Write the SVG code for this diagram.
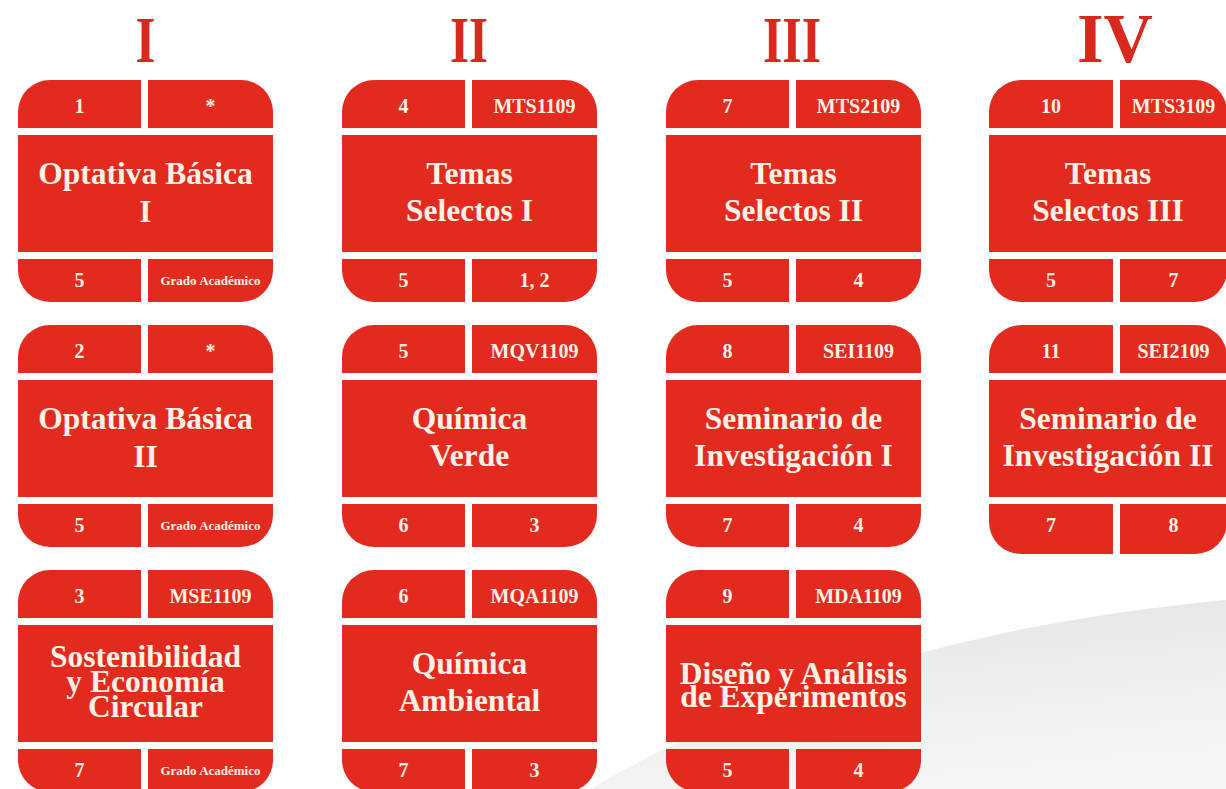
<svg xmlns="http://www.w3.org/2000/svg" xmlns:xlink="http://www.w3.org/1999/xlink" width="1226" height="789" viewBox="0 0 1226 789">
<style>
.cell{fill:#e32a1f}
.hd{font-family:"Liberation Serif","Times New Roman",serif;font-weight:bold;fill:#d9291e;text-anchor:middle}
.lb{font-family:"Liberation Serif","Times New Roman",serif;font-weight:bold;fill:#fbf1e4;text-anchor:middle;font-size:20px}
.sm{font-size:13px}
.tt{font-family:"Liberation Serif","Times New Roman",serif;font-weight:bold;fill:#fbf1e4;text-anchor:middle;font-size:31.5px}
</style>
<defs>
<linearGradient id="sw" x1="0" y1="0" x2="0.3" y2="1">
<stop offset="0" stop-color="#e3e3e3"/>
<stop offset="1" stop-color="#f5f5f5"/>
</linearGradient>
<g id="card">
<path class="cell" d="M0,48 V32 A32,32 0 0 1 32,0 H123 V48 Z"/>
<path class="cell" d="M130,0 H223 A32,32 0 0 1 255,32 V48 H130 Z"/>
<rect class="cell" x="0" y="55" width="255" height="117"/>
<path class="cell" d="M0,179 H123 V222 H32 A32,32 0 0 1 0,190 Z"/>
<path class="cell" d="M130,179 H255 V190 A32,32 0 0 1 223,222 H130 Z"/>
</g>
<g id="cardN">
<path class="cell" d="M0,48 V32 A32,32 0 0 1 32,0 H124 V48 Z"/>
<path class="cell" d="M131,0 H206 A32,32 0 0 1 238,32 V48 H131 Z"/>
<rect class="cell" x="0" y="55" width="238" height="117"/>
<path class="cell" d="M0,179 H124 V222 H32 A32,32 0 0 1 0,190 Z"/>
<path class="cell" d="M131,179 H238 V190 A32,32 0 0 1 206,222 H131 Z"/>
</g>
<g id="cardNT">
<path class="cell" d="M0,48 V32 A32,32 0 0 1 32,0 H124 V48 Z"/>
<path class="cell" d="M131,0 H206 A32,32 0 0 1 238,32 V48 H131 Z"/>
<rect class="cell" x="0" y="55" width="238" height="117"/>
<path class="cell" d="M0,179 H124 V229 H32 A32,32 0 0 1 0,197 Z"/>
<path class="cell" d="M131,179 H238 V197 A32,32 0 0 1 206,229 H131 Z"/>
</g>
</defs>
<rect width="1226" height="789" fill="#ffffff"/>
<path d="M590,789 C760,690 960,625 1226,600 V789 Z" fill="url(#sw)"/>
<g id="headers">
<text class="hd" x="145.5" y="62" font-size="66" textLength="20" lengthAdjust="spacingAndGlyphs">I</text>
<text class="hd" x="469" y="62" font-size="66" textLength="38" lengthAdjust="spacingAndGlyphs">II</text>
<text class="hd" x="792" y="62" font-size="66" textLength="58" lengthAdjust="spacingAndGlyphs">III</text>
<text class="hd" x="1115" y="62" font-size="70" textLength="76" lengthAdjust="spacingAndGlyphs">IV</text>
</g>
<g id="c1" transform="translate(18,80)"><use href="#card"/>
<text class="lb" x="61.5" y="32.5">1</text><text class="lb" x="192.5" y="32.5">*</text>
<text class="tt" x="127.5" y="104">Optativa Básica</text><text class="tt" x="127.5" y="142">I</text>
<text class="lb" x="61.5" y="206.5">5</text><text class="lb sm" x="192.5" y="205">Grado Académico</text></g>
<g id="c2" transform="translate(18,325)"><use href="#card"/>
<text class="lb" x="61.5" y="32.5">2</text><text class="lb" x="192.5" y="32.5">*</text>
<text class="tt" x="127.5" y="104">Optativa Básica</text><text class="tt" x="127.5" y="142">II</text>
<text class="lb" x="61.5" y="206.5">5</text><text class="lb sm" x="192.5" y="205">Grado Académico</text></g>
<g id="c3" transform="translate(18,570)"><use href="#card"/>
<text class="lb" x="61.5" y="32.5">3</text><text class="lb" x="192.5" y="32.5">MSE1109</text>
<text class="tt" x="127.5" y="97">Sostenibilidad</text><text class="tt" x="127.5" y="122">y Economía</text><text class="tt" x="127.5" y="147">Circular</text>
<text class="lb" x="61.5" y="206.5">7</text><text class="lb sm" x="192.5" y="205">Grado Académico</text></g>
<g id="c4" transform="translate(342,80)"><use href="#card"/>
<text class="lb" x="61.5" y="32.5">4</text><text class="lb" x="192.5" y="32.5">MTS1109</text>
<text class="tt" x="127.5" y="104">Temas</text><text class="tt" x="127.5" y="141">Selectos I</text>
<text class="lb" x="61.5" y="206.5">5</text><text class="lb" x="192.5" y="206.5">1, 2</text></g>
<g id="c5" transform="translate(342,325)"><use href="#card"/>
<text class="lb" x="61.5" y="32.5">5</text><text class="lb" x="192.5" y="32.5">MQV1109</text>
<text class="tt" x="127.5" y="104">Química</text><text class="tt" x="127.5" y="141">Verde</text>
<text class="lb" x="61.5" y="206.5">6</text><text class="lb" x="192.5" y="206.5">3</text></g>
<g id="c6" transform="translate(342,570)"><use href="#card"/>
<text class="lb" x="61.5" y="32.5">6</text><text class="lb" x="192.5" y="32.5">MQA1109</text>
<text class="tt" x="127.5" y="104">Química</text><text class="tt" x="127.5" y="141">Ambiental</text>
<text class="lb" x="61.5" y="206.5">7</text><text class="lb" x="192.5" y="206.5">3</text></g>
<g id="c7" transform="translate(666,80)"><use href="#card"/>
<text class="lb" x="61.5" y="32.5">7</text><text class="lb" x="192.5" y="32.5">MTS2109</text>
<text class="tt" x="127.5" y="104">Temas</text><text class="tt" x="127.5" y="141">Selectos II</text>
<text class="lb" x="61.5" y="206.5">5</text><text class="lb" x="192.5" y="206.5">4</text></g>
<g id="c8" transform="translate(666,325)"><use href="#card"/>
<text class="lb" x="61.5" y="32.5">8</text><text class="lb" x="192.5" y="32.5">SEI1109</text>
<text class="tt" x="127.5" y="104">Seminario de</text><text class="tt" x="127.5" y="141">Investigación I</text>
<text class="lb" x="61.5" y="206.5">7</text><text class="lb" x="192.5" y="206.5">4</text></g>
<g id="c9" transform="translate(666,570)"><use href="#card"/>
<text class="lb" x="61.5" y="32.5">9</text><text class="lb" x="192.5" y="32.5">MDA1109</text>
<text class="tt" x="127.5" y="114">Diseño y Análisis</text><text class="tt" x="127.5" y="137">de Experimentos</text>
<text class="lb" x="61.5" y="206.5">5</text><text class="lb" x="192.5" y="206.5">4</text></g>
<g id="c10" transform="translate(989,80)"><use href="#cardN"/>
<text class="lb" x="62" y="32.5">10</text><text class="lb" x="184.5" y="32.5">MTS3109</text>
<text class="tt" x="119" y="104">Temas</text><text class="tt" x="119" y="141">Selectos III</text>
<text class="lb" x="62" y="206.5">5</text><text class="lb" x="184.5" y="206.5">7</text></g>
<g id="c11" transform="translate(989,325)"><use href="#cardNT"/>
<text class="lb" x="62" y="32.5">11</text><text class="lb" x="184.5" y="32.5">SEI2109</text>
<text class="tt" x="119" y="104">Seminario de</text><text class="tt" x="119" y="141">Investigación II</text>
<text class="lb" x="62" y="206.5">7</text><text class="lb" x="184.5" y="206.5">8</text></g>
<g id="connectors"></g>
</svg>
